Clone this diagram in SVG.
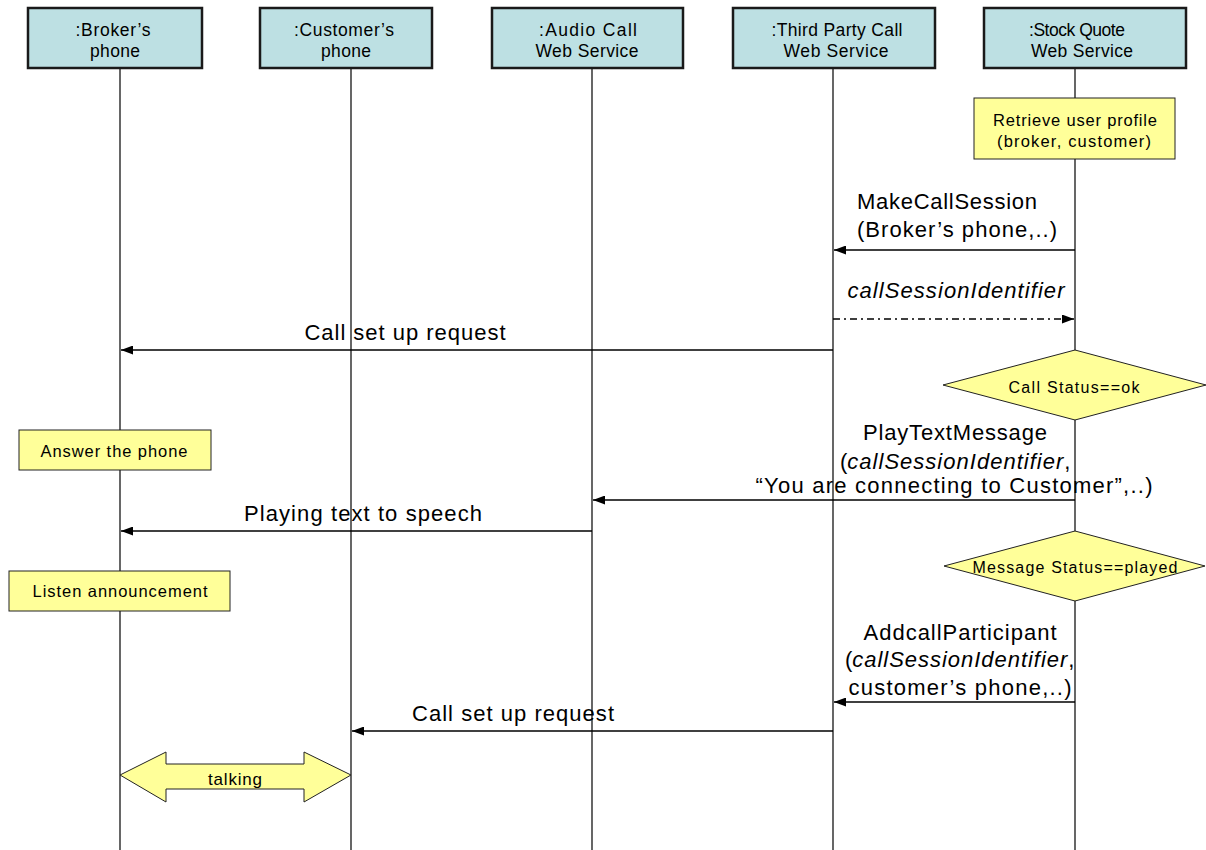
<svg xmlns="http://www.w3.org/2000/svg" width="1206" height="850" viewBox="0 0 1206 850">
<style>
text{font-family:"Liberation Sans",Arial,sans-serif;fill:#000}
.hdr rect{fill:#bde0e3;stroke:#1a1a1a;stroke-width:2.5}
.hdr text{font-size:17.5px;text-anchor:middle}
.life{stroke:#000;stroke-width:1.2;fill:none}
.note{fill:#ffff99;stroke:#222;stroke-width:1}
.nt{font-size:16.5px;text-anchor:middle}
.msg{font-size:22px;text-anchor:middle}
.st{text-anchor:start}
.ln{stroke:#000;stroke-width:1.3;fill:none}
.it{font-style:italic}
</style>
<defs>
<marker id="ah" markerWidth="12" markerHeight="9" refX="12" refY="4.5" orient="auto" markerUnits="userSpaceOnUse">
<path d="M0,0 L12,4.5 L0,9 Z" fill="#000"/>
</marker>
</defs>
<rect width="1206" height="850" fill="#fff"/>

<g id="lifelines">
<line class="life" x1="120" y1="68" x2="120" y2="850"/>
<line class="life" x1="351" y1="68" x2="351" y2="850"/>
<line class="life" x1="592" y1="68" x2="592" y2="850"/>
<line class="life" x1="833" y1="68" x2="833" y2="850"/>
<line class="life" x1="1075" y1="68" x2="1075" y2="850"/>
</g>

<g id="broker" class="hdr">
<rect x="28" y="8" width="174" height="60"/>
<text x="113" y="36" textLength="75" lengthAdjust="spacing">:Broker’s</text>
<text x="115" y="57" textLength="50" lengthAdjust="spacing">phone</text>
</g>
<g id="customer" class="hdr">
<rect x="260" y="8" width="172" height="60"/>
<text x="344" y="36" textLength="100" lengthAdjust="spacing">:Customer’s</text>
<text x="346" y="57" textLength="50" lengthAdjust="spacing">phone</text>
</g>
<g id="audio" class="hdr">
<rect x="492" y="8" width="191" height="60"/>
<text x="588" y="36" textLength="98" lengthAdjust="spacing">:Audio Call</text>
<text x="587" y="57" textLength="103" lengthAdjust="spacing">Web Service</text>
</g>
<g id="thirdparty" class="hdr">
<rect x="733" y="8" width="202" height="60"/>
<text x="837" y="36" textLength="131" lengthAdjust="spacing">:Third Party Call</text>
<text x="836" y="57" textLength="105" lengthAdjust="spacing">Web Service</text>
</g>
<g id="stockquote" class="hdr">
<rect x="984" y="8" width="202" height="60"/>
<text x="1077" y="36" textLength="96" lengthAdjust="spacing">:Stock Quote</text>
<text x="1082" y="57" textLength="102" lengthAdjust="spacing">Web Service</text>
</g>

<g id="retrieve">
<rect class="note" x="974" y="98" width="201" height="61"/>
<text class="nt" x="1075" y="126" textLength="164" lengthAdjust="spacing">Retrieve user profile</text>
<text class="nt" x="1074" y="147" textLength="154" lengthAdjust="spacing">(broker, customer)</text>
</g>

<g id="callstatus">
<path class="note" d="M943,385 L1075,350 L1206,385 L1075,420 Z"/>
<text x="1074" y="393" font-size="16" text-anchor="middle" textLength="131" lengthAdjust="spacing">Call Status==ok</text>
</g>

<g id="msgstatus">
<path class="note" d="M944,566 L1075,531 L1205,566 L1075,601 Z"/>
<text x="1075" y="573" font-size="16" text-anchor="middle" textLength="205" lengthAdjust="spacing">Message Status==played</text>
</g>

<g id="answer">
<rect class="note" x="19" y="430" width="192" height="40"/>
<text class="nt" x="114" y="457" textLength="147" lengthAdjust="spacing">Answer the phone</text>
</g>

<g id="listen">
<rect class="note" x="9" y="571" width="221" height="40"/>
<text class="nt" x="120" y="597" textLength="175" lengthAdjust="spacing">Listen announcement</text>
</g>

<g id="talking">
<path class="note" d="M120,775 L166,752 L166,764 L304,764 L304,752 L351,775 L304,802 L304,789 L166,789 L166,802 Z"/>
<text x="235" y="785" font-size="17" text-anchor="middle" textLength="54" lengthAdjust="spacing">talking</text>
</g>

<g id="connectors">
<line class="ln" x1="1075" y1="250" x2="834" y2="250" marker-end="url(#ah)"/>
<line class="ln" x1="833" y1="319" x2="1074" y2="319" stroke-dasharray="7,4,2,4" marker-end="url(#ah)"/>
<line class="ln" x1="833" y1="350" x2="121" y2="350" marker-end="url(#ah)"/>
<line class="ln" x1="1075" y1="500" x2="593" y2="500" marker-end="url(#ah)"/>
<line class="ln" x1="592" y1="531" x2="121" y2="531" marker-end="url(#ah)"/>
<line class="ln" x1="1075" y1="702" x2="834" y2="702" marker-end="url(#ah)"/>
<line class="ln" x1="833" y1="731" x2="352" y2="731" marker-end="url(#ah)"/>
</g>

<g id="labels">
<text class="msg" x="947" y="209" textLength="180" lengthAdjust="spacing">MakeCallSession</text>
<text class="msg" x="957" y="237" textLength="200" lengthAdjust="spacing">(Broker’s phone,..)</text>
<text class="msg it" x="956" y="298" textLength="217" lengthAdjust="spacing">callSessionIdentifier</text>
<text class="msg" x="405" y="340" textLength="201" lengthAdjust="spacing">Call set up request</text>
<text class="msg" x="955" y="440" textLength="184" lengthAdjust="spacing">PlayTextMessage</text>
<text class="msg st" x="840" y="469">(<tspan class="it" textLength="216" lengthAdjust="spacing">callSessionIdentifier</tspan>,</text>
<text class="msg" x="954" y="493" textLength="397" lengthAdjust="spacing">“You are connecting to Customer”,..)</text>
<text class="msg" x="363" y="521" textLength="238" lengthAdjust="spacing">Playing text to speech</text>
<text class="msg" x="960" y="640" textLength="193" lengthAdjust="spacing">AddcallParticipant</text>
<text class="msg st" x="845" y="667">(<tspan class="it" textLength="215" lengthAdjust="spacing">callSessionIdentifier</tspan>,</text>
<text class="msg" x="960" y="695" textLength="223" lengthAdjust="spacing">customer’s phone,..)</text>
<text class="msg" x="513" y="721" textLength="202" lengthAdjust="spacing">Call set up request</text>
</g>
</svg>
